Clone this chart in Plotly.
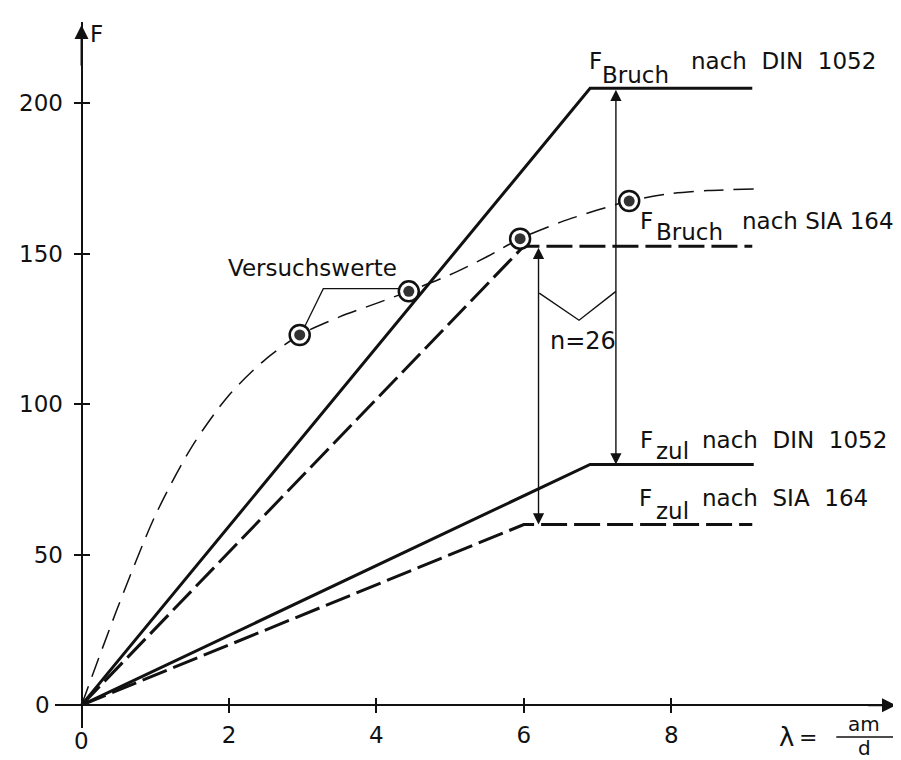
import plotly.graph_objects as go

# ---------------- data ----------------
din_bruch_x = [0, 6.9, 9.1]
din_bruch_y = [0, 205, 205]
sia_bruch_x = [0, 6.0, 9.1]
sia_bruch_y = [0, 152.5, 152.5]
din_zul_x = [0, 6.9, 9.12]
din_zul_y = [0, 80, 80]
sia_zul_x = [0, 6.0, 9.1]
sia_zul_y = [0, 60, 60]

test_x = [2.96, 4.44, 5.95, 7.43]          # Versuchswerte
test_y = [123, 137.5, 155, 167.5]

curve_x = [0, 0.5, 1.0, 1.5, 2.0, 2.5, 2.96, 3.5, 4.0, 4.44, 5.0, 5.5, 5.95, 6.5, 7.0, 7.43, 8.0, 8.5, 9.12]
curve_y = [0, 33, 63, 86, 103, 115, 123, 129, 133.5, 137.5, 143, 149, 155, 160.5, 164.5, 167.5, 170, 171, 171.5]

leader_x = [3.03, 3.28, 4.32]
leader_y = [125.9, 138.4, 138.4]

brace_x = [6.21, 6.75, 7.25]
brace_y = [136.9, 127.9, 137.5]

arrow_din_x = 7.25
arrow_sia_x = 6.2

x_ticks = [2, 4, 6, 8]
y_ticks = [50, 100, 150, 200]

x_range = [-0.36, 11.05]
y_range = [-7.6, 227]

FONT = "DejaVu Sans"
INK = "#111111"
NB = "\u00a0"


def px(x):
    return (x - x_range[0]) / (x_range[1] - x_range[0])


def py(y):
    return (y - y_range[0]) / (y_range[1] - y_range[0])


fig = go.Figure()

# thin dashed fitted curve through the test values
fig.add_trace(go.Scatter(x=curve_x, y=curve_y, mode="lines",
                         line=dict(color=INK, width=1.5, dash="20px,10px", shape="spline", smoothing=0.8),
                         hoverinfo="skip"))
# leader lines for "Versuchswerte"
fig.add_trace(go.Scatter(x=leader_x, y=leader_y, mode="lines",
                         line=dict(color=INK, width=1.3), hoverinfo="skip"))
# brace for n=26
fig.add_trace(go.Scatter(x=brace_x, y=brace_y, mode="lines",
                         line=dict(color=INK, width=1.4), hoverinfo="skip"))
# DIN 1052 (solid)
fig.add_trace(go.Scatter(x=din_bruch_x, y=din_bruch_y, mode="lines",
                         line=dict(color=INK, width=3), hoverinfo="skip"))
fig.add_trace(go.Scatter(x=din_zul_x, y=din_zul_y, mode="lines",
                         line=dict(color=INK, width=3), hoverinfo="skip"))
# SIA 164 (thick dashed)
fig.add_trace(go.Scatter(x=sia_bruch_x, y=sia_bruch_y, mode="lines",
                         line=dict(color=INK, width=3, dash="26px,7px"), hoverinfo="skip"))
fig.add_trace(go.Scatter(x=sia_zul_x, y=sia_zul_y, mode="lines",
                         line=dict(color=INK, width=3, dash="26px,7px"), hoverinfo="skip"))
# test value markers: ring + dot
fig.add_trace(go.Scatter(x=test_x, y=test_y, mode="markers",
                         marker=dict(symbol="circle", size=20, color="white",
                                     line=dict(color=INK, width=2.5)), hoverinfo="skip"))
fig.add_trace(go.Scatter(x=test_x, y=test_y, mode="markers",
                         marker=dict(symbol="circle", size=11, color="#333333"), hoverinfo="skip"))
# dummy trace for the overlay axes (inner half of the crossing ticks)
fig.add_trace(go.Scatter(x=[x_range[0]], y=[y_range[0]], mode="markers", xaxis="x2", yaxis="y2",
                         marker=dict(size=1, color="rgba(0,0,0,0)"), hoverinfo="skip"))

xpos = py(0)
ypos = px(0)

axis_common = dict(showgrid=False, zeroline=False, ticklen=7, tickwidth=1.6, tickcolor=INK)

fig.update_layout(
    width=901, height=760,
    margin=dict(l=47, r=13, t=14, b=40),
    paper_bgcolor="white", plot_bgcolor="white",
    showlegend=False,
    font=dict(family=FONT, color=INK, size=23),
    xaxis=dict(range=x_range, anchor="free", position=xpos, showline=True, linewidth=2, linecolor=INK,
               tickvals=x_ticks, ticktext=[str(v) for v in x_ticks], ticks="outside",
               ticklabelstandoff=2, tickfont=dict(size=23, family=FONT, color=INK),
               automargin=False, **axis_common),
    yaxis=dict(range=y_range, anchor="free", position=ypos, showline=True, linewidth=2, linecolor=INK,
               tickvals=y_ticks, ticktext=[str(v) for v in y_ticks], ticks="outside",
               ticklabelstandoff=6, tickfont=dict(size=23, family=FONT, color=INK),
               automargin=False, **axis_common),
    xaxis2=dict(range=x_range, overlaying="x", anchor="free", position=xpos, showline=False,
                tickvals=x_ticks, ticks="inside", showticklabels=False, automargin=False, **axis_common),
    yaxis2=dict(range=y_range, overlaying="y", anchor="free", position=ypos, showline=False,
                tickvals=y_ticks, ticks="inside", showticklabels=False, automargin=False, **axis_common),
)

ann = []


def txt(x, y, s, size=23, xanchor="left", yanchor="middle"):
    ann.append(dict(x=px(x), y=py(y), xref="paper", yref="paper", text=s, showarrow=False,
                    xanchor=xanchor, yanchor=yanchor, font=dict(family=FONT, size=size, color=INK)))


# curve labels
txt(6.86, 214, "F"); txt(7.03, 209.5, "Bruch"); txt(8.24, 214, "nach" + NB + " DIN" + NB + " 1052")
txt(7.55, 161, "F"); txt(7.76, 157.3, "Bruch"); txt(8.93, 161, "nach SIA 164")
txt(7.55, 88.2, "F"); txt(7.76, 84.5, "zul"); txt(8.39, 88.2, "nach" + NB + " DIN" + NB + " 1052")
txt(7.54, 68.8, "F"); txt(7.76, 64.5, "zul"); txt(8.39, 68.8, "nach" + NB + " SIA" + NB + " 164")
txt(3.13, 145.2, "Versuchswerte", xanchor="center")
txt(6.8, 121, "n=26", size=24, xanchor="center")
# axis labels
txt(0.09, 223, "F")
txt(-0.40, 0, "0", xanchor="right")
txt(0, -12.0, "0", xanchor="center")
txt(9.56, -10.6, "λ", size=26, xanchor="center")
txt(9.86, -10.6, "=", size=22, xanchor="center")
txt(10.62, -6.4, "am", size=20, xanchor="center")
txt(10.62, -14.2, "d", size=20, xanchor="center")

# axis arrow heads
ann.append(dict(x=x_range[1], y=0, ax=x_range[1] - 0.4, ay=0, xref="x", yref="y", axref="x", ayref="y",
                showarrow=True, arrowhead=2, arrowsize=1.4, arrowwidth=2, arrowcolor=INK, text=""))
ann.append(dict(x=0, y=y_range[1] - 1, ax=0, ay=y_range[1] - 15, xref="x", yref="y", axref="x", ayref="y",
                showarrow=True, arrowhead=2, arrowsize=1.4, arrowwidth=2, arrowcolor=INK, text=""))
# dimension arrows
for ax_x, top, bottom in [(arrow_din_x, din_bruch_y[-1], din_zul_y[-1]),
                          (arrow_sia_x, sia_bruch_y[-1], sia_zul_y[-1])]:
    ann.append(dict(x=ax_x, y=bottom, ax=ax_x, ay=top,
                    xref="x", yref="y", axref="x", ayref="y", showarrow=True, arrowside="end+start",
                    arrowhead=2, startarrowhead=2, arrowsize=1.6, startarrowsize=1.6, arrowwidth=1.4,
                    arrowcolor=INK, text=""))

fig.update_layout(annotations=ann)
# fraction bar of am/d
fig.add_shape(type="line", x0=px(10.24), x1=px(11.01), y0=py(-10.6), y1=py(-10.6),
              xref="paper", yref="paper", line=dict(color=INK, width=1.6))

fig.write_html("out.html")
